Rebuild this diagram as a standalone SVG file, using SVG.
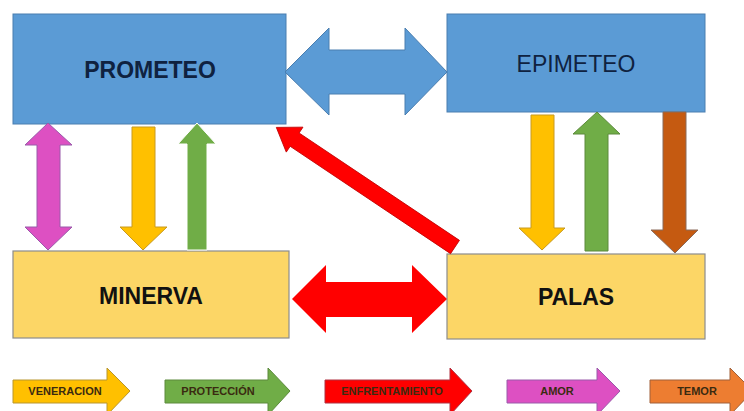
<svg xmlns="http://www.w3.org/2000/svg" width="744" height="411" viewBox="0 0 744 411">
<style>
.blue{fill:#5B9BD5;stroke:#4A7EB0;stroke-width:1}
.ybox{fill:#FCD666;stroke:#8C8C8C;stroke-width:1.2}
.lbl{font-family:"Liberation Sans",Arial,sans-serif;font-size:23px;text-anchor:middle}
.b{font-weight:bold}
.leg{font-family:"Liberation Sans",Arial,sans-serif;font-size:11px;font-weight:bold;text-anchor:middle;fill:#3a2a10}
</style>
<rect width="744" height="411" fill="#fff"/>
<g id="prometeo"><rect class="blue" x="13" y="14" width="273" height="110"/><text class="lbl b" x="150" y="78" fill="#0F2240">PROMETEO</text></g>
<g id="epimeteo"><rect class="blue" x="447" y="14" width="258" height="98"/><text class="lbl" x="576" y="72" fill="#0F2240">EPIMETEO</text></g>
<g id="minerva"><rect class="ybox" x="13" y="251" width="276" height="87"/><text class="lbl b" x="151" y="304" fill="#111">MINERVA</text></g>
<g id="palas"><rect class="ybox" x="447" y="254" width="258" height="85"/><text class="lbl b" x="576" y="305" fill="#111">PALAS</text></g>
<g id="connectors">
<polygon fill="#5B9BD5" stroke="#4A7EB0" points="285,72 329,28 329,50 405,50 405,28 447,72 405,115 405,94 329,94 329,115"/>
<polygon fill="#FF0000" points="292,299 326,265 326,282 412,282 412,265 447,299 412,333 412,317 326,317 326,333"/>
<polygon fill="#DD50C2" stroke="#9A5AAA" points="48,123 72,145 60,145 60,227 72,227 48,250 25,227 37,227 37,145 25,145"/>
<polygon fill="#FFC000" stroke="#C89A20" points="132,127 155,127 155,227 167,227 143,250 120,227 132,227"/>
<polygon fill="#70AD47" stroke="#fff" points="197,123 216,144 207,144 207,250 187,250 187,144 178,144"/>
<polygon fill="#FFC000" stroke="#C89A20" points="531,115 554,115 554,228 565,228 542,250 519,228 531,228"/>
<polygon fill="#70AD47" stroke="#5C8A3C" points="597,112 620,134 608,134 608,251 585,251 585,134 573,134"/>
<polygon fill="#C55A11" stroke="#8A6A5A" points="663,112 686,112 686,230 698,230 675,253 651,230 663,230"/>
<g transform="translate(455,247) rotate(213.8)"><polygon fill="#FF0000" stroke="#C00000" stroke-width="0.8" points="0,-8 193,-8 193,-15 215,0 193,15 193,8 0,8"/></g>
</g>
<g id="legend">
<polygon fill="#FFC000" stroke="#B8962E" points="13,380 107,380 107,368 130,391 107,415 107,403 13,403"/>
<text class="leg" x="65" y="395">VENERACION</text>
<polygon fill="#70AD47" stroke="#5C8A3C" points="165,380 268,380 268,368 290,391 268,415 268,403 165,403"/>
<text class="leg" x="218" y="395">PROTECCIÓN</text>
<polygon fill="#FF0000" stroke="#B03040" points="325,380 450,380 450,368 472,391 450,415 450,403 325,403"/>
<text class="leg" x="392" y="395">ENFRENTAMIENTO</text>
<polygon fill="#DD50C2" stroke="#9A5AAA" points="507,380 597,380 597,368 620,391 597,415 597,403 507,403"/>
<text class="leg" x="557" y="395">AMOR</text>
<polygon fill="#ED7D31" stroke="#A0603A" points="650,380 730,380 730,368 753,391 730,415 730,403 650,403"/>
<text class="leg" x="697" y="395">TEMOR</text>
</g>
</svg>
